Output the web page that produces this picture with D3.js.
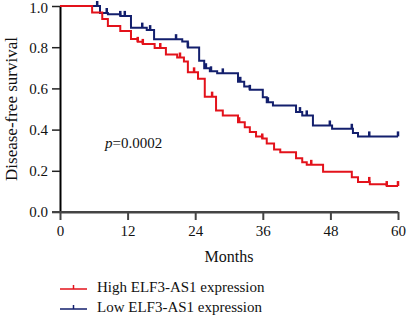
<!DOCTYPE html>
<html>
<head>
<meta charset="utf-8">
<script src="https://cdn.jsdelivr.net/npm/d3@7"></script>
<style>
  body { margin: 0; background: #fff; }
  text { font-family: "Liberation Serif", "DejaVu Serif", serif; }
</style>
</head>
<body>
<svg id="drawing_region"></svg>
<script>
// Kaplan-Meier steps (months, survival)
const highMonths = [0, 5.7, 7.5, 8.5, 10.7, 12.6, 13.8, 14.7, 16.8, 18.8, 20.8, 22.0, 22.7, 24.5, 25.7, 27.7, 28.9, 31.6, 32.8, 33.7, 34.8, 35.9, 36.7, 38.0, 39.1, 41.9, 43.0, 43.8, 46.7, 51.8, 52.9, 55.0, 58.0];
const highSurv   = [1.0, 0.968, 0.937, 0.903, 0.879, 0.840, 0.826, 0.816, 0.796, 0.765, 0.750, 0.731, 0.678, 0.647, 0.560, 0.493, 0.469, 0.436, 0.412, 0.388, 0.367, 0.357, 0.333, 0.304, 0.290, 0.261, 0.242, 0.229, 0.195, 0.169, 0.146, 0.135, 0.126];
const highCensor = [13.8, 14.7, 17.8, 21.3, 23.8, 27.0, 31.8, 35.9, 44.6, 54.9, 58.0, 60];

const lowMonths = [0, 7.1, 8.5, 10.7, 12.6, 15.4, 16.7, 21.7, 22.7, 24.7, 25.6, 26.6, 27.9, 31.6, 32.7, 33.7, 36.0, 36.7, 37.8, 41.9, 43.0, 44.9, 48.3, 52.0, 52.9];
const lowSurv   = [1.0, 0.966, 0.960, 0.952, 0.895, 0.883, 0.839, 0.828, 0.799, 0.734, 0.698, 0.683, 0.673, 0.632, 0.609, 0.593, 0.557, 0.533, 0.517, 0.485, 0.469, 0.420, 0.404, 0.383, 0.367];
const lowCensor = [6.6, 8.3, 10.7, 11.5, 14.6, 16.0, 20.6, 22.7, 25.9, 26.8, 28.9, 32.0, 33.7, 36.9, 42.6, 43.8, 47.9, 51.8, 54.9, 60];

const xTicks = [0, 12, 24, 36, 48, 60];
const yTicks = [0, 0.2, 0.4, 0.6, 0.8, 1.0];
const groups = ["High ELF3-AS1 expression", "Low ELF3-AS1 expression"];
const colors = ["#e3121b", "#131f6d"];

const config = {
    width: 407,
    height: 318,
    margin: {top: 6, right: 9, bottom: 106, left: 60}
};

const svg = d3.select('#drawing_region')
    .attr('width', config.width)
    .attr('height', config.height);

const inner_width = config.width - config.margin.left - config.margin.right;
const inner_height = config.height - config.margin.top - config.margin.bottom;

const chart = svg.append('g')
    .attr('transform', `translate(${config.margin.left}, ${config.margin.top})`);

const xscale = d3.scaleLinear().domain([0, 60]).range([0, inner_width]);
const yscale = d3.scaleLinear().domain([0, 1]).range([inner_height, 0]);

// axes
const xaxis_group = chart.append('g')
    .attr('transform', `translate(0, ${inner_height})`)
    .call(d3.axisBottom(xscale).tickValues(xTicks).tickSize(8).tickSizeOuter(0).tickPadding(5));
xaxis_group.select('.domain').attr('stroke', '#444').attr('stroke-width', 2);
xaxis_group.selectAll('.tick line').attr('stroke', '#444').attr('stroke-width', 2);
xaxis_group.selectAll('text').attr('font-size', 15).attr('fill', '#111');

const yaxis_group = chart.append('g')
    .call(d3.axisLeft(yscale).tickValues(yTicks).tickFormat(d3.format('.1f')).tickSize(8).tickSizeOuter(0).tickPadding(4));
yaxis_group.select('.domain').attr('stroke', '#000').attr('stroke-width', 2);
yaxis_group.selectAll('.tick line').attr('stroke', '#222').attr('stroke-width', 1.5);
yaxis_group.selectAll('text').attr('font-size', 15).attr('fill', '#111');
// keep the top label inside the page
yaxis_group.selectAll('.tick text').filter(d => d === 1).attr('dy', '0.45em');

// x axis line runs under the foot of the y axis too
chart.append('line')
    .attr('x1', -8).attr('x2', inner_width)
    .attr('y1', inner_height).attr('y2', inner_height)
    .attr('stroke', '#444').attr('stroke-width', 2);

// axis titles
svg.append('text')
    .attr('transform', `translate(13, ${config.margin.top + inner_height / 2}) rotate(-90)`)
    .attr('text-anchor', 'middle')
    .attr('dominant-baseline', 'middle')
    .attr('font-size', 17)
    .attr('fill', '#111')
    .text('Disease-free survival');

svg.append('text')
    .attr('x', config.margin.left + inner_width / 2)
    .attr('y', 262)
    .attr('text-anchor', 'middle')
    .attr('font-size', 16)
    .attr('fill', '#111')
    .text('Months');

// p value
const ptext = chart.append('text')
    .attr('x', xscale(8))
    .attr('y', yscale(0.31))
    .attr('font-size', 15)
    .attr('fill', '#111');
ptext.append('tspan').attr('font-style', 'italic').text('p');
ptext.append('tspan').text('=0.0002');

// survival curves
const series = [
    {months: highMonths, surv: highSurv, censor: highCensor, color: colors[0]},
    {months: lowMonths, surv: lowSurv, censor: lowCensor, color: colors[1]}
];

const line = d3.line()
    .x(d => xscale(d[0]))
    .y(d => yscale(d[1]))
    .curve(d3.curveStepAfter);

function survAt(s, t) {
    let v = s.surv[0];
    for (let i = 0; i < s.months.length; i++) {
        if (s.months[i] <= t) v = s.surv[i];
    }
    return v;
}

// low first so high sits on top where they overlap
[series[1], series[0]].forEach(s => {
    const pts = s.months.map((m, i) => [m, s.surv[i]]);
    pts.push([60, s.surv[s.surv.length - 1]]);
    chart.append('path')
        .datum(pts)
        .attr('fill', 'none')
        .attr('stroke', s.color)
        .attr('stroke-width', 2)
        .attr('d', line);

    chart.selectAll(null)
        .data(s.censor)
        .enter()
        .append('line')
        .attr('x1', d => xscale(d))
        .attr('x2', d => xscale(d))
        .attr('y1', d => yscale(survAt(s, d)))
        .attr('y2', d => yscale(survAt(s, d)) - 5)
        .attr('stroke', s.color)
        .attr('stroke-width', 2.5);
});

// legend
const legend = svg.append('g').attr('transform', 'translate(60, 289)');
groups.forEach((g, i) => {
    const row = legend.append('g').attr('transform', `translate(0, ${i * 20})`);
    row.append('line')
        .attr('x1', 0).attr('x2', 27).attr('y1', 0).attr('y2', 0)
        .attr('stroke', colors[i]).attr('stroke-width', 1.5);
    row.append('line')
        .attr('x1', 13.5).attr('x2', 13.5).attr('y1', 0).attr('y2', -4)
        .attr('stroke', colors[i]).attr('stroke-width', 1.5);
    row.append('text')
        .attr('x', 37)
        .attr('y', 0)
        .attr('dominant-baseline', 'middle')
        .attr('font-size', 15)
        .attr('fill', '#111')
        .text(g);
});
</script>
</body>
</html>
